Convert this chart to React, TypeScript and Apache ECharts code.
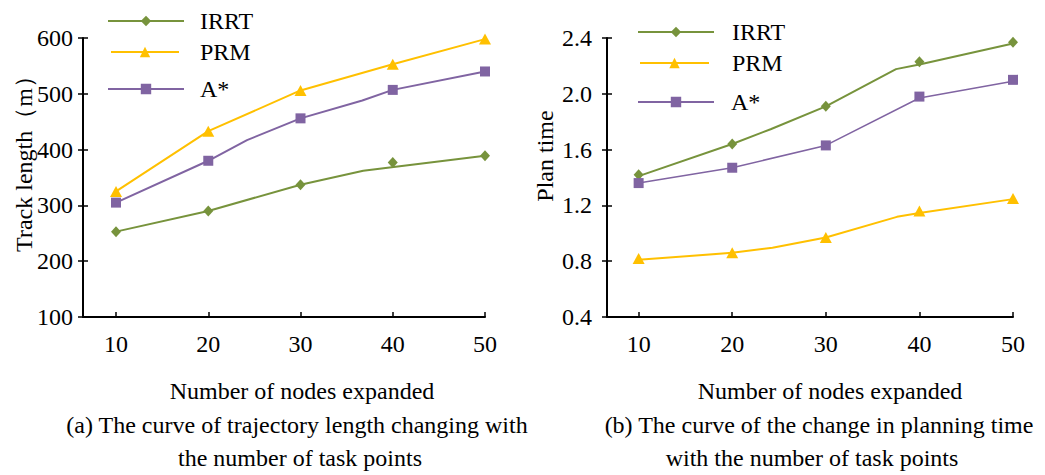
import React, { useEffect, useRef } from "react";
import * as echarts from "echarts";

// ---------- data ----------
const xTicks = [10, 20, 30, 40, 50];

// (a) track length — marker values
const lenIRRT = [253, 290, 337, 377, 389];
const lenPRM = [325, 433, 506, 553, 598];
const lenAstar = [305, 380, 456, 507, 540];
// (a) line vertices as drawn
const lenIRRTLine = [[10, 253], [20, 290], [30, 337], [36.8, 362], [50, 389]];
const lenPRMLine = [[10, 325], [20, 433], [30, 506], [40, 553], [50, 598]];
const lenAstarLine = [[10, 305], [20, 380], [24.2, 417], [30, 456], [36.7, 488], [40, 507], [50, 540]];

// (b) plan time — marker values
const timeIRRT = [1.42, 1.64, 1.91, 2.23, 2.37];
const timePRM = [0.82, 0.86, 0.97, 1.16, 1.25];
const timeAstar = [1.36, 1.47, 1.63, 1.98, 2.1];
// (b) line vertices as drawn
const timeIRRTLine = [[10, 1.41], [20, 1.64], [24.1, 1.746], [30, 1.91], [37.5, 2.177], [40, 2.21], [50, 2.36]];
const timePRMLine = [[10, 0.81], [20, 0.86], [24.3, 0.896], [30, 0.97], [37.6, 1.118], [40, 1.145], [50, 1.245]];
const timeAstarLine = [[10, 1.36], [20, 1.47], [30, 1.63], [40, 1.97], [50, 2.09]];

const seriesNames = ["IRRT", "PRM", "A*"];
const colors = ["#77933C", "#FFC000", "#8064A2"];
const symbols = ["diamond", "triangle", "rect"];
const symbolSizes: any[] = [[10, 11], [12, 11], 10];

const FONT = "Liberation Serif";
const FS = 24;

export default function App() {
  const ref = useRef<HTMLDivElement>(null);

  useEffect(() => {
    if (!ref.current) return;
    const chart = echarts.init(ref.current, undefined, { renderer: "svg" });

    const pairs = (vals: number[]) => vals.map((v, i) => [xTicks[i], v]);

    const makeX = (gridIndex: number, min: number) => ({
      type: "value",
      gridIndex,
      min,
      max: 50,
      axisLine: { show: true, onZero: false, lineStyle: { color: "#000", width: 2 } },
      axisTick: { show: true, inside: true, length: 5, customValues: xTicks, lineStyle: { color: "#000", width: 1.5 } },
      axisLabel: { show: true, customValues: xTicks, margin: 15, color: "#000", fontSize: FS, fontFamily: FONT },
      splitLine: { show: false },
    });

    const makeY = (gridIndex: number, min: number, max: number, interval: number, margin: number, fmt: (v: number) => string) => ({
      type: "value",
      gridIndex,
      min,
      max,
      interval,
      axisLine: { show: true, lineStyle: { color: "#000", width: 2 } },
      axisTick: { show: true, inside: false, length: 5, lineStyle: { color: "#000", width: 1.5 } },
      axisLabel: { margin, color: "#000", fontSize: FS, fontFamily: FONT, formatter: fmt },
      splitLine: { show: false },
    });

    // twin axis drawing only the inner half of the crossing tick marks
    const makeYInner = (gridIndex: number, min: number, max: number, interval: number) => ({
      type: "value",
      gridIndex,
      min,
      max,
      interval,
      position: "left",
      axisLine: { show: false },
      axisTick: { show: true, inside: true, length: 5, lineStyle: { color: "#000", width: 1.5 } },
      axisLabel: { show: false },
      splitLine: { show: false },
    });

    const lineSeries = (idx: number, gridIdx: number, data: number[][], width: number) => ({
      type: "line",
      name: seriesNames[idx],
      xAxisIndex: gridIdx,
      yAxisIndex: gridIdx,
      data,
      symbol: symbols[idx],
      symbolSize: symbolSizes[idx],
      showSymbol: false,
      lineStyle: { color: colors[idx], width },
      itemStyle: { color: colors[idx] },
      z: 2,
    });

    const markerSeries = (idx: number, gridIdx: number, vals: number[]) => ({
      type: "scatter",
      name: seriesNames[idx],
      xAxisIndex: gridIdx,
      yAxisIndex: gridIdx,
      data: pairs(vals),
      symbol: symbols[idx],
      symbolSize: symbolSizes[idx],
      itemStyle: { color: colors[idx], opacity: 1 },
      z: 3,
    });

    const legendItem = (name: string, left: number, top: number, width: number, pad: number) => ({
      data: [name],
      left,
      top,
      orient: "vertical",
      padding: 0,
      itemWidth: width,
      itemHeight: 13,
      selectedMode: false,
      textStyle: { color: "#000", fontSize: FS, fontFamily: FONT, padding: [0, 0, 0, pad] },
    });

    const txt = (text: string, x: number, y: number, rotation = 0) => ({
      type: "text",
      x,
      y,
      rotation,
      style: {
        text,
        fill: "#000",
        fontSize: FS,
        fontFamily: FONT,
        align: "center",
        verticalAlign: "middle",
        textAlign: "center",
        textVerticalAlign: "middle",
      },
    });

    chart.setOption({
      animation: false,
      backgroundColor: "#fff",
      grid: [
        { left: 83, top: 38, width: 402, height: 279, containLabel: false },
        { left: 607, top: 38, width: 406, height: 279, containLabel: false },
      ],
      xAxis: [makeX(0, 6.42), makeX(1, 6.62)],
      yAxis: [
        makeY(0, 100, 600, 100, 10, (v: number) => String(v)),
        makeY(1, 0.4, 2.4, 0.4, 15, (v: number) => v.toFixed(1)),
        makeYInner(0, 100, 600, 100),
        makeYInner(1, 0.4, 2.4, 0.4),
      ],
      legend: [
        legendItem("IRRT", 107, 9, 76, 11),
        legendItem("PRM", 110, 40, 68, 16),
        legendItem("A*", 107, 77, 76, 11),
        legendItem("IRRT", 637, 20, 76, 13),
        legendItem("PRM", 639, 51, 69, 18),
        legendItem("A*", 637, 90, 76, 12),
      ],
      series: [
        lineSeries(0, 0, lenIRRTLine, 2),
        lineSeries(1, 0, lenPRMLine, 2),
        lineSeries(2, 0, lenAstarLine, 2),
        lineSeries(0, 1, timeIRRTLine, 2),
        lineSeries(1, 1, timePRMLine, 2),
        lineSeries(2, 1, timeAstarLine, 1.5),
        markerSeries(0, 0, lenIRRT),
        markerSeries(1, 0, lenPRM),
        markerSeries(2, 0, lenAstar),
        markerSeries(0, 1, timeIRRT),
        markerSeries(1, 1, timePRM),
        markerSeries(2, 1, timeAstar),
      ],
      graphic: [
        txt("Track length（m）", 24, 158, Math.PI / 2),
        txt("Plan time", 545, 156, Math.PI / 2),
        txt("Number of nodes expanded", 302, 391),
        txt("(a) The curve of trajectory length changing with", 297, 425),
        txt("the number of task points", 300, 458),
        txt("Number of nodes expanded", 830, 391),
        txt("(b) The curve of the change in planning time", 819, 425),
        txt("with the number of task points", 812, 458),
      ],
    });

    return () => chart.dispose();
  }, []);

  return (
    <div
      ref={ref}
      style={{ position: "fixed", left: 0, top: 0, width: 1045, height: 475, background: "#fff" }}
    />
  );
}
